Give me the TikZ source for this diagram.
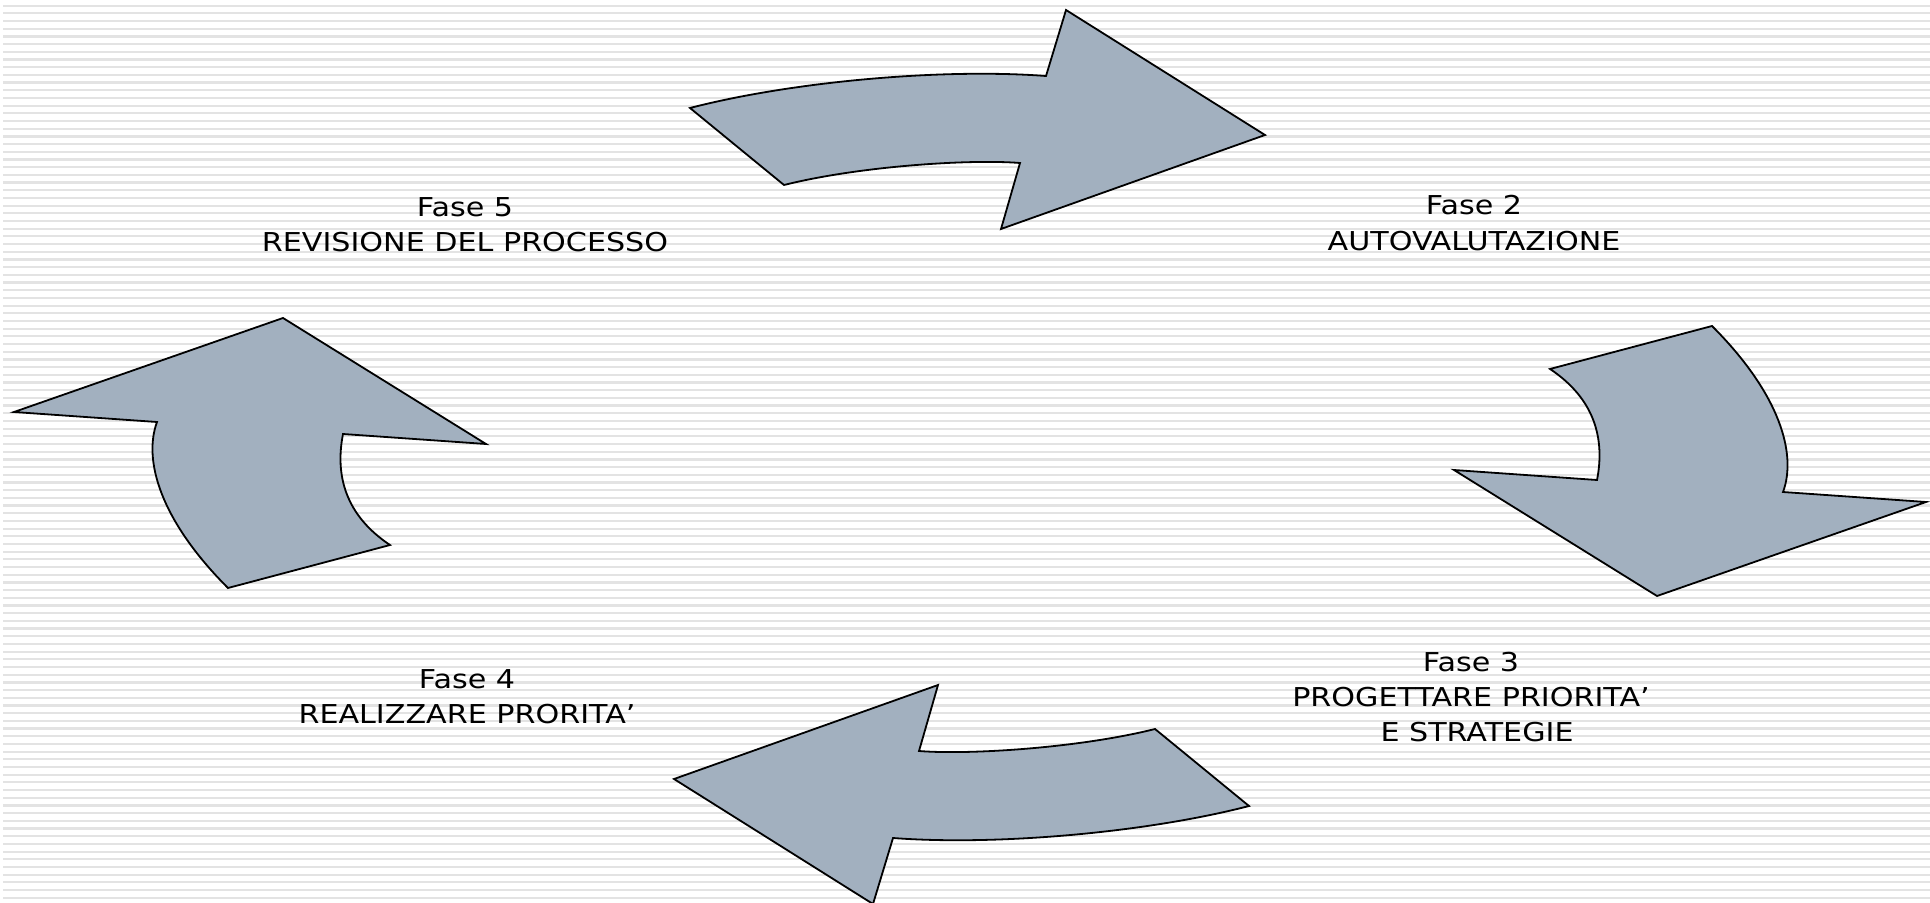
\documentclass[tikz,border=0pt]{standalone}
\usepackage{fontspec}
\setmainfont{DejaVu Sans}[FakeStretch=1.16]
\usepackage{tikz}
\usetikzlibrary{positioning}
\definecolor{arrowfill}{HTML}{A2B0BF}
\definecolor{rulegrey}{HTML}{E3E3E3}
% curved block arrows, in pixel units
\newcommand{\toparrow}{(690,108) .. controls (790,82) and (940,68) .. (1046,76)
    -- (1066,10) -- (1265,135) -- (1001,229) -- (1020,163)
    .. controls (970,159) and (860,166) .. (784,185) -- cycle}
\newcommand{\leftarrowshape}{(283,318) -- (486,444) -- (343,434)
    .. controls (335,475) and (345,515) .. (390,545) -- (228,588)
    .. controls (160,520) and (143,460) .. (157,422) -- (14,412) -- cycle}

\begin{document}
\begin{tikzpicture}[x=0.5pt, y=-0.5pt,
    blockarrow/.style={draw=black, line width=0.9pt, fill=arrowfill, line join=miter},
    fase/.style={align=center, inner sep=0pt, font=\fontsize{13}{17.6}\selectfont}]
    \useasboundingbox (0,0) rectangle (1930,903);
    % Ruled background
    \foreach \k in {0,...,116}
        \draw[rulegrey, line width=1.1pt] (3,{5.7+\k*7.69}) -- (1930,{5.7+\k*7.69});
    % Arrows
    \draw[blockarrow] \toparrow;
    \begin{scope}[rotate around={180:(969.5,457)}]
        \draw[blockarrow] \toparrow;
    \end{scope}
    \draw[blockarrow] \leftarrowshape;
    \begin{scope}[rotate around={180:(970,457)}]
        \draw[blockarrow] \leftarrowshape;
    \end{scope}
    % Phases
    \node[fase] (fase5) at (465,225) {Fase 5\\REVISIONE DEL PROCESSO};
    \node[fase] (fase2) at (1474,223) {Fase 2\\AUTOVALUTAZIONE};
    \node[fase] (fase3) at (1471,697) {Fase 3\\PROGETTARE PRIORITA’\\\hspace*{6pt}E STRATEGIE};
    \node[fase] (fase4) at (467,697) {Fase 4\\REALIZZARE PRORITA’};
\end{tikzpicture}
\end{document}
